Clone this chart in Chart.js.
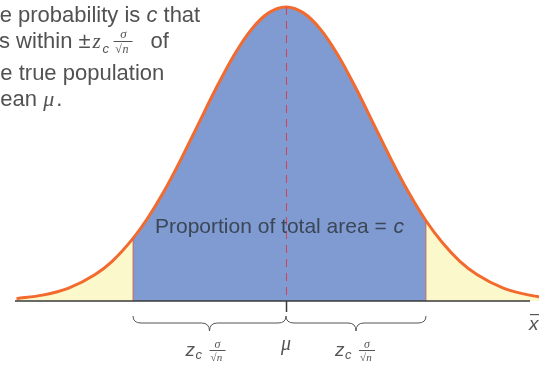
<!DOCTYPE html>
<html>
<head>
  <title>Confidence interval for the mean</title>
  <script src="https://cdn.jsdelivr.net/npm/chart.js"></script>
  <style>
    body { margin: 0; background-color: #ffffff; }
    #wrap { width: 539px; height: 367px; }
  </style>
</head>
<body>
  <div id="wrap"><canvas id="myChart" width="539" height="367"></canvas></div>

  <script>
    // curve: position in sigma units, relative height
    const zValues = [-3.1, -2.8, -2.5, -2.2, -2.0, -1.76, -1.6, -1.4, -1.2, -1.0, -0.8, -0.6, -0.4, -0.2, 0,
                     0.2, 0.4, 0.6, 0.8, 1.0, 1.2, 1.4, 1.61, 1.8, 2.0, 2.2, 2.5, 2.8, 3.0];
    const heights = [0.008, 0.020, 0.044, 0.089, 0.135, 0.213, 0.278, 0.375, 0.487, 0.607, 0.726, 0.835, 0.923, 0.980, 1.0,
                     0.980, 0.923, 0.835, 0.726, 0.607, 0.487, 0.375, 0.273, 0.198, 0.135, 0.089, 0.044, 0.020, 0.011];
    const lowerBound = -1.76;
    const upperBound = 1.61;
    const meanValue = 0;

    const curve = zValues.map((z, i) => ({ x: z, y: heights[i] }));
    const middle = curve.filter(p => p.x >= lowerBound && p.x <= upperBound);

    // text, braces and guide lines drawn on top
    const notes = {
      id: 'notes',
      afterDatasetsDraw(chart) {
        const ctx = chart.ctx;
        const xs = chart.scales.x, ys = chart.scales.y;
        const x0 = xs.getPixelForValue(meanValue);
        const xl = xs.getPixelForValue(lowerBound);
        const xr = xs.getPixelForValue(upperBound);
        const base = ys.getPixelForValue(0);
        const top = ys.getPixelForValue(1);
        ctx.save();

        // edges of the shaded band
        ctx.strokeStyle = 'rgba(220, 90, 60, 0.8)';
        ctx.lineWidth = 1;
        ctx.beginPath();
        ctx.moveTo(xl, base); ctx.lineTo(xl, ys.getPixelForValue(middle[0].y));
        ctx.moveTo(xr, base); ctx.lineTo(xr, ys.getPixelForValue(middle[middle.length - 1].y));
        ctx.stroke();

        // dashed mean line
        ctx.strokeStyle = '#d2405a';
        ctx.setLineDash([8, 6]);
        ctx.beginPath();
        ctx.moveTo(x0 + 0.5, top);
        ctx.lineTo(x0 + 0.5, base);
        ctx.stroke();
        ctx.setLineDash([]);

        // axis line and mean tick
        ctx.strokeStyle = '#3a3a3a';
        ctx.lineWidth = 1.5;
        ctx.beginPath();
        ctx.moveTo(15, base);
        ctx.lineTo(530, base);
        ctx.moveTo(x0 + 0.5, base);
        ctx.lineTo(x0 + 0.5, base + 11);
        ctx.stroke();

        // braces
        function brace(a, b) {
          const y1 = base + 15, y2 = base + 22, y3 = base + 30, m = (a + b) / 2;
          ctx.beginPath();
          ctx.moveTo(a, y1);
          ctx.quadraticCurveTo(a, y2, a + 8, y2);
          ctx.lineTo(m - 8, y2);
          ctx.quadraticCurveTo(m, y2, m, y3);
          ctx.quadraticCurveTo(m, y2, m + 8, y2);
          ctx.lineTo(b - 8, y2);
          ctx.quadraticCurveTo(b, y2, b, y1);
          ctx.stroke();
        }
        ctx.strokeStyle = '#555';
        ctx.lineWidth = 1;
        brace(xl, x0);
        brace(x0, xr);

        // z_c sigma / sqrt(n) labels
        function zLabel(cx, cy) {
          ctx.fillStyle = '#555';
          ctx.textBaseline = 'alphabetic';
          ctx.textAlign = 'left';
          ctx.font = 'italic 19px "Liberation Sans"';
          ctx.fillText('z', cx - 21, cy + 6);
          ctx.font = 'italic 13px "Liberation Sans"';
          ctx.fillText('c', cx - 11, cy + 9);
          ctx.font = 'italic 12px "Liberation Serif"';
          ctx.textAlign = 'center';
          ctx.fillText('σ', cx + 11, cy - 2);
          ctx.fillRect(cx + 3, cy, 16, 1);
          ctx.font = '11px "Liberation Serif"';
          ctx.fillText('√', cx + 7, cy + 11);
          ctx.font = 'italic 11px "Liberation Serif"';
          ctx.fillText('n', cx + 13, cy + 11);
        }
        zLabel(xs.getPixelForValue((lowerBound + meanValue) / 2) - 3, base + 49);
        zLabel(xs.getPixelForValue((upperBound + meanValue) / 2), base + 49);

        ctx.fillStyle = '#555';
        ctx.textAlign = 'center';
        ctx.font = 'italic 20px "Liberation Serif"';
        ctx.fillText('μ', x0, base + 49);

        // x-bar
        ctx.font = 'italic 19px "Liberation Sans"';
        ctx.textAlign = 'left';
        ctx.fillText('x', 529, base + 29);
        ctx.fillRect(530, base + 13, 10, 1.2);

        // middle label
        ctx.fillStyle = '#3b4656';
        ctx.textAlign = 'left';
        ctx.font = '21px "Liberation Sans"';
        const t1 = 'Proportion of total area = ';
        ctx.fillText(t1, 155, 233);
        ctx.font = 'italic 21px "Liberation Sans"';
        ctx.fillText('c', 155 + ctx.measureText(t1).width + 1, 233);

        // top-left note, cut at the left edge
        ctx.fillStyle = '#525252';
        function runs(lx, parts, y) {
          let x = lx;
          parts.forEach(p => {
            ctx.font = p[1];
            ctx.fillText(p[0], x, y);
            x += ctx.measureText(p[0]).width;
          });
          return x;
        }
        const reg = '22px "Liberation Sans"', ita = 'italic 22px "Liberation Sans"';
        runs(-26, [['The probability is ', reg], ['c', ita], [' that', reg]], 22);
        let xe = runs(-23, [['lies within ±', reg]], 48);
        ctx.font = 'italic 21px "Liberation Serif"';
        ctx.fillText('z', xe + 2, 48);
        ctx.font = 'italic 13px "Liberation Sans"';
        ctx.fillText('c', xe + 12, 53);
        ctx.textAlign = 'center';
        ctx.font = 'italic 13px "Liberation Serif"';
        ctx.fillText('σ', xe + 33, 38);
        ctx.fillRect(xe + 23, 41, 19, 1);
        ctx.font = '12px "Liberation Serif"';
        ctx.fillText('√', xe + 28, 53);
        ctx.font = 'italic 12px "Liberation Serif"';
        ctx.fillText('n', xe + 35, 53);
        ctx.textAlign = 'left';
        ctx.font = reg;
        ctx.fillText('of', xe + 60, 48);
        runs(-18, [['the true population', reg]], 80);
        xe = runs(-18, [['mean ', reg]], 106);
        ctx.font = 'italic 22px "Liberation Serif"';
        ctx.fillText('μ', xe, 106);
        ctx.font = reg;
        ctx.fillText('.', xe + 13, 106);

        ctx.restore();
      }
    };

    const ctx = document.getElementById('myChart').getContext('2d');
    const myChart = new Chart(ctx, {
      type: 'line',
      data: {
        datasets: [
          {
            data: curve,
            borderColor: '#f26a2e',
            borderWidth: 3,
            pointRadius: 0,
            fill: false,
            cubicInterpolationMode: 'monotone',
            order: 1,
            clip: false
          },
          {
            data: middle,
            borderWidth: 0,
            backgroundColor: '#7f9bd2',
            pointRadius: 0,
            fill: 'origin',
            cubicInterpolationMode: 'monotone',
            order: 2
          },
          {
            data: curve,
            borderWidth: 0,
            backgroundColor: '#fbf8cc',
            pointRadius: 0,
            fill: 'origin',
            cubicInterpolationMode: 'monotone',
            order: 3
          }
        ]
      },
      options: {
        responsive: false,
        animation: false,
        layout: { padding: { top: 7, bottom: 66, left: 0, right: 0 } },
        plugins: { legend: { display: false }, tooltip: { enabled: false } },
        scales: {
          x: { type: 'linear', min: -3.29, max: 2.91, display: false },
          y: { min: 0, max: 1, display: false }
        }
      },
      plugins: [notes]
    });
  </script>
</body>
</html>
